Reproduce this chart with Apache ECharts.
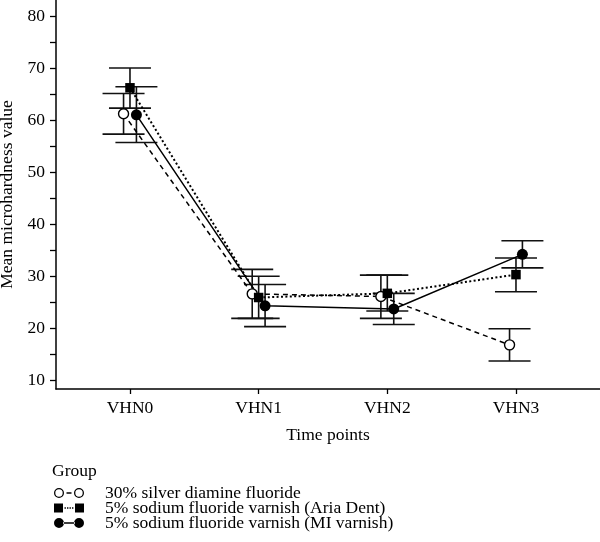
<!DOCTYPE html>
<html>
<head>
<meta charset="utf-8">
<script src="https://cdn.jsdelivr.net/npm/echarts@6/dist/echarts.min.js"></script>
<style>
  html, body { margin: 0; padding: 0; background: #fff; }
  #chart { width: 600px; height: 542px; }
</style>
</head>
<body>
<div id="chart"></div>
<script>
// categories / ticks
const timePoints = ['VHN0', 'VHN1', 'VHN2', 'VHN3'];
const yTickLabels = [10, 20, 30, 40, 50, 60, 70, 80];
const yTicks = [10, 15, 20, 25, 30, 35, 40, 45, 50, 55, 60, 65, 70, 75, 80];
const groupNames = [
  '30% silver diamine fluoride',
  '5% sodium fluoride varnish (Aria Dent)',
  '5% sodium fluoride varnish (MI varnish)'
];

// means and error bar ends
const sdfMean  = [61.2, 26.6, 26.1, 16.8];
const sdfLow   = [57.3, 21.9, 21.9, 13.7];
const sdfHigh  = [65.1, 31.3, 30.2, 19.9];

const ariaMean = [66.2, 25.9, 26.7, 30.3];
const ariaLow  = [62.3, 21.9, 23.3, 27.0];
const ariaHigh = [70.0, 30.0, 30.2, 33.5];

const miMean   = [61.0, 24.3, 23.7, 34.2];
const miLow    = [55.7, 20.3, 20.7, 31.6];
const miHigh   = [66.4, 28.4, 26.7, 36.8];

const FONT = '"Liberation Serif", "Times New Roman", serif';
const FS = 17.5;
const dodge = [-0.05, 0, 0.05];

// legend icons: symbol - line - symbol, 30x10 box
const ICON_OPEN = 'path://M0,5 A5,5 0 1 0 10,5 A5,5 0 1 0 0,5 Z M1.3,5 A3.7,3.7 0 1 1 8.7,5 A3.7,3.7 0 1 1 1.3,5 Z ' +
  'M12.5,4.3 L17.5,4.3 L17.5,5.7 L12.5,5.7 Z ' +
  'M20,5 A5,5 0 1 0 30,5 A5,5 0 1 0 20,5 Z M21.3,5 A3.7,3.7 0 1 1 28.7,5 A3.7,3.7 0 1 1 21.3,5 Z';
const ICON_SQUARE = 'path://M0,0.5 L9,0.5 L9,9.5 L0,9.5 Z ' +
  'M10.5,4.3 L11.9,4.3 L11.9,5.7 L10.5,5.7 Z M13,4.3 L14.4,4.3 L14.4,5.7 L13,5.7 Z ' +
  'M15.5,4.3 L16.9,4.3 L16.9,5.7 L15.5,5.7 Z M18,4.3 L19.4,4.3 L19.4,5.7 L18,5.7 Z ' +
  'M21,0.5 L30,0.5 L30,9.5 L21,9.5 Z M0,0 L0,0 M30,10 L30,10';
const ICON_FILLED = 'path://M0,5 A5,5 0 1 0 10,5 A5,5 0 1 0 0,5 Z ' +
  'M9,4.3 L21,4.3 L21,5.7 L9,5.7 Z ' +
  'M20,5 A5,5 0 1 0 30,5 A5,5 0 1 0 20,5 Z';

const groups = [
  { name: groupNames[0], mean: sdfMean, low: sdfLow, high: sdfHigh,
    symbol: 'circle', size: 10, fill: '#fff', lineType: [5, 4], width: 1.5, icon: ICON_OPEN },
  { name: groupNames[1], mean: ariaMean, low: ariaLow, high: ariaHigh,
    symbol: 'rect', size: 9.5, fill: '#000', lineType: [2, 2.4], width: 2, icon: ICON_SQUARE },
  { name: groupNames[2], mean: miMean, low: miLow, high: miHigh,
    symbol: 'circle', size: 11, fill: '#000', lineType: 'solid', width: 1.5, icon: ICON_FILLED }
];

const series = [];
groups.forEach((g, k) => {
  series.push({
    type: 'custom',
    name: g.name + ' error',
    silent: true,
    z: 1,
    encode: { x: 0, y: [1, 2] },
    data: g.mean.map((m, i) => [i + dodge[k], g.low[i], g.high[i]]),
    renderItem(params, api) {
      const lo = api.coord([api.value(0), api.value(1)]);
      const hi = api.coord([api.value(0), api.value(2)]);
      const hw = 21;
      const style = { stroke: '#111', lineWidth: 1.6 };
      return {
        type: 'group',
        children: [
          { type: 'line', shape: { x1: lo[0], y1: lo[1], x2: hi[0], y2: hi[1] }, style },
          { type: 'line', shape: { x1: lo[0] - hw, y1: lo[1], x2: lo[0] + hw, y2: lo[1] }, style },
          { type: 'line', shape: { x1: hi[0] - hw, y1: hi[1], x2: hi[0] + hw, y2: hi[1] }, style }
        ]
      };
    }
  });
  series.push({
    type: 'line',
    name: g.name,
    z: 3,
    silent: true,
    data: g.mean.map((m, i) => [i + dodge[k], m]),
    symbol: g.symbol,
    symbolSize: g.size,
    showAllSymbol: true,
    lineStyle: { color: '#000', width: g.width, type: g.lineType },
    itemStyle: { color: g.fill, borderColor: '#000', borderWidth: g.fill === '#fff' ? 1.4 : 0 }
  });
});

const chart = echarts.init(document.getElementById('chart'), null, { renderer: 'canvas' });
chart.setOption({
  backgroundColor: '#fff',
  animation: false,
  textStyle: { fontFamily: FONT, color: '#000' },
  title: {
    text: 'Group', left: 52, top: 462, padding: 0,
    textStyle: { fontFamily: FONT, fontSize: FS, fontWeight: 'normal', color: '#000' }
  },
  legend: {
    orient: 'vertical',
    left: 54, top: 484,
    padding: 0,
    itemGap: -3,
    itemWidth: 30, itemHeight: 10,
    selectedMode: false,
    textStyle: { fontFamily: FONT, fontSize: FS, color: '#000', padding: [0, 0, 0, 16] },
    data: groups.map(g => ({ name: g.name, icon: g.icon, itemStyle: { color: '#000', borderWidth: 0, opacity: 1 } }))
  },
  grid: { left: 56, right: 0, top: 0, bottom: 153, outerBoundsMode: 'none', containLabel: false },
  xAxis: {
    type: 'value',
    min: -0.575, max: 3.653,
    name: 'Time points',
    nameLocation: 'middle',
    nameGap: 37,
    nameTextStyle: { fontFamily: FONT, fontSize: FS, color: '#000' },
    axisLine: { show: true, onZero: false, lineStyle: { color: '#000', width: 1.5 } },
    axisTick: { show: true, length: 5, customValues: [0, 1, 2, 3], lineStyle: { color: '#000', width: 1.3 } },
    axisLabel: {
      customValues: [0, 1, 2, 3],
      formatter: v => timePoints[Math.round(v)],
      fontFamily: FONT, fontSize: FS, color: '#000', margin: 10
    },
    splitLine: { show: false }
  },
  yAxis: {
    type: 'value',
    min: 8.32, max: 83.07,
    name: 'Mean microhardness value',
    nameLocation: 'middle',
    nameGap: 39,
    nameTextStyle: { fontFamily: FONT, fontSize: FS, color: '#000' },
    axisLine: { show: true, onZero: false, lineStyle: { color: '#000', width: 1.5 } },
    axisTick: { show: true, length: 6, customValues: yTicks, lineStyle: { color: '#000', width: 1.3 } },
    axisLabel: {
      customValues: yTickLabels,
      fontFamily: FONT, fontSize: FS, color: '#000', margin: 11
    },
    splitLine: { show: false }
  },
  series
});
</script>
</body>
</html>
